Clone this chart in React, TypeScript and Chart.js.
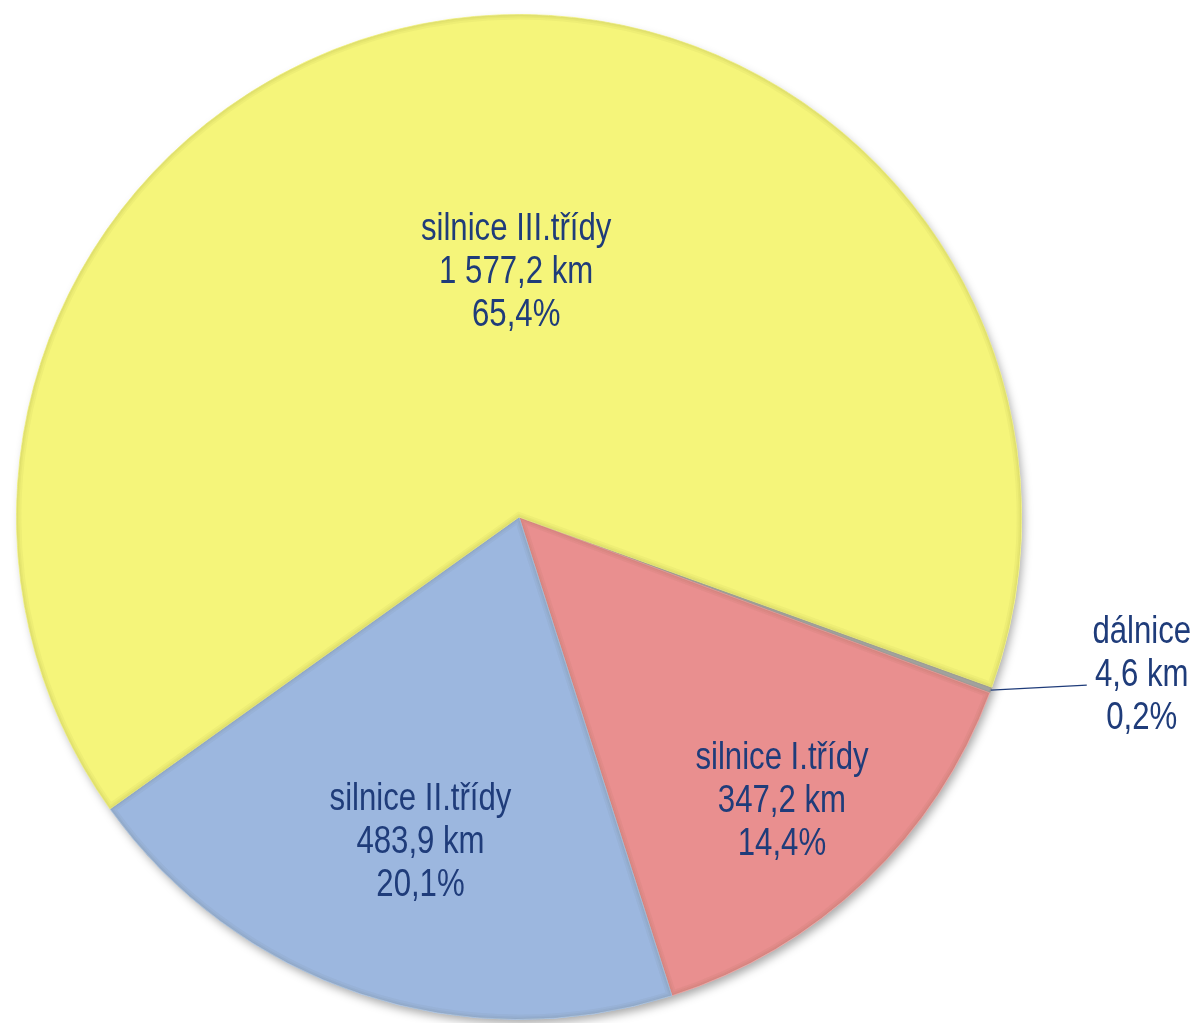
import React, { useEffect, useRef } from "react";
import { Chart, registerables } from "chart.js";

Chart.register(...registerables);

const categories = ["dálnice", "silnice I.třídy", "silnice II.třídy", "silnice III.třídy"];
const lengthsKm = [4.6, 347.2, 483.9, 1577.2];
const kmLabels = ["4,6 km", "347,2 km", "483,9 km", "1 577,2 km"];
const percentLabels = ["0,2%", "14,4%", "20,1%", "65,4%"];
const sliceColors = ["#A9A9A9", "#E98F8F", "#9CB7DF", "#F5F57A"];

const FONT = '"Liberation Sans", Arial, sans-serif';
const TEXT_COLOR = "#1F3C7A";
const LINE_H = 43;
const NARROW = 0.82;

// label placement: inside labels by radius fraction + angle shift (deg); outside with leader
const placements = [
  { outside: true, leaderDx: 96, leaderDy: -5, textDx: 55, textDy: -11 },
  { outside: false, rFrac: 0.77, dAngle: 0.8 },
  { outside: false, rFrac: 0.675, dAngle: -1.5 },
  { outside: false, rFrac: 0.489, dAngle: 7.2 },
];

const shadowPlugin = {
  id: "pieShadow",
  beforeDatasetsDraw(chart: any) {
    const meta = chart.getDatasetMeta(0);
    const a = meta.data[0];
    if (!a) return;
    const ctx = chart.ctx;
    ctx.save();
    ctx.beginPath();
    ctx.arc(a.x, a.y, a.outerRadius - 1, 0, Math.PI * 2);
    ctx.fillStyle = "#ffffff";
    ctx.shadowColor = "rgba(0,0,0,0.35)";
    ctx.shadowBlur = 10;
    ctx.shadowOffsetX = 3;
    ctx.shadowOffsetY = 5;
    ctx.fill();
    ctx.restore();
  },
};

const bevelPlugin = {
  id: "pieBevel",
  afterDatasetsDraw(chart: any) {
    const meta = chart.getDatasetMeta(0);
    const ctx = chart.ctx;
    meta.data.forEach((a: any) => {
      ctx.save();
      ctx.beginPath();
      ctx.moveTo(a.x, a.y);
      ctx.arc(a.x, a.y, a.outerRadius, a.startAngle, a.endAngle);
      ctx.closePath();
      ctx.clip();
      [10, 6, 3].forEach((w) => {
        ctx.lineWidth = w;
        ctx.strokeStyle = "rgba(60,50,0,0.035)";
        ctx.stroke();
      });
      ctx.restore();
    });
  },
};

const labelPlugin = {
  id: "pieLabels",
  afterDraw(chart: any) {
    const meta = chart.getDatasetMeta(0);
    const ctx = chart.ctx;
    ctx.save();
    ctx.font = `38px ${FONT}`;
    ctx.fillStyle = TEXT_COLOR;
    ctx.textAlign = "center";
    ctx.textBaseline = "middle";
    meta.data.forEach((a: any, i: number) => {
      const p: any = placements[i];
      const mid = (a.startAngle + a.endAngle) / 2;
      let cx: number, cy: number;
      if (p.outside) {
        const sx = a.x + a.outerRadius * Math.cos(mid);
        const sy = a.y + a.outerRadius * Math.sin(mid);
        const ex = sx + p.leaderDx;
        const ey = sy + p.leaderDy;
        ctx.beginPath();
        ctx.moveTo(sx, sy);
        ctx.lineTo(ex, ey);
        ctx.strokeStyle = TEXT_COLOR;
        ctx.lineWidth = 1.2;
        ctx.stroke();
        cx = ex + p.textDx;
        cy = ey + p.textDy;
      } else {
        const ang = mid + (p.dAngle * Math.PI) / 180;
        const r = a.outerRadius * p.rFrac;
        cx = a.x + r * Math.cos(ang);
        cy = a.y + r * Math.sin(ang);
      }
      const lines = [categories[i], kmLabels[i], percentLabels[i]];
      lines.forEach((t, k) => {
        ctx.save();
        ctx.translate(cx, cy + (k - 1) * LINE_H + 1);
        ctx.scale(NARROW, 1);
        ctx.fillText(t, 0, 0);
        ctx.restore();
      });
    });
    ctx.restore();
  },
};

export default function App() {
  const ref = useRef<HTMLCanvasElement | null>(null);
  useEffect(() => {
    if (!ref.current) return;
    const chart = new Chart(ref.current, {
      type: "pie",
      data: {
        labels: categories,
        datasets: [
          {
            data: lengthsKm,
            backgroundColor: sliceColors,
            borderColor: ["#9a9a9a", "#F2A9A9", "#B3CBEB", "#F7F78C"],
            borderWidth: 1,
          },
        ],
      },
      options: {
        animation: false,
        responsive: false,
        rotation: 109.8,
        layout: { padding: { left: 16, top: 14, right: 175, bottom: 3 } },
        plugins: {
          legend: { display: false },
          tooltip: { enabled: false },
        },
      },
      plugins: [shadowPlugin, bevelPlugin, labelPlugin],
    });
    return () => chart.destroy();
  }, []);
  return (
    <div style={{ position: "absolute", left: 0, top: 0, width: 1197, height: 1023, background: "#fff" }}>
      <canvas ref={ref} width={1197} height={1023} style={{ width: 1197, height: 1023, display: "block" }} />
    </div>
  );
}
